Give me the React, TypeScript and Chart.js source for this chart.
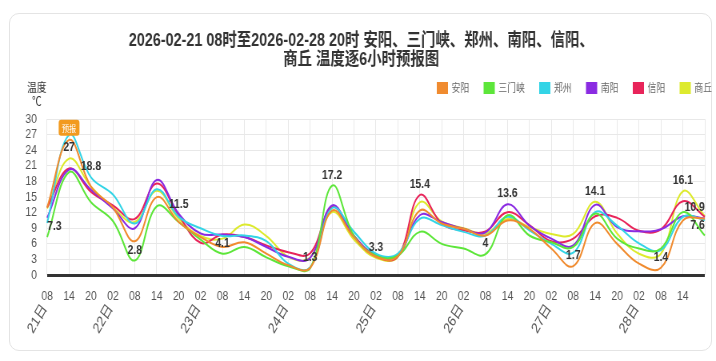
import React, { useEffect, useRef } from 'react';
import { Chart, registerables } from 'chart.js';

Chart.register(...registerables);

// ---------- data ----------
const titleLines = [
  '2026-02-21 08时至2026-02-28 20时 安阳、三门峡、郑州、南阳、信阳、',
  '商丘 温度逐6小时预报图',
];

const hourLabels = [
  '08', '14', '20',
  '02', '08', '14', '20',
  '02', '08', '14', '20',
  '02', '08', '14', '20',
  '02', '08', '14', '20',
  '02', '08', '14', '20',
  '02', '08', '14', '20',
  '02', '08', '14', '20',
];

const dayNames = ['21日', '22日', '23日', '24日', '25日', '26日', '27日', '28日'];

const cityNames = ['安阳', '三门峡', '郑州', '南阳', '信阳', '商丘'];
const cityColors = ['#F08B2F', '#5DE63A', '#33D4E6', '#8A2BE2', '#E8245A', '#DDEA2E'];

const anyang = [13, 26, 17, 13, 6.5, 15, 10.2, 7.3, 5.4, 6.3, 4.1, 1.9, 1.4, 12.4, 7.2, 3.5, 3.6, 12.4, 9.9, 8.9, 7.6, 10.5, 8.9, 5.1, 1.7, 10, 6, 2.2, 1.4, 10.5, 10.9];
const sanmenxia = [7.3, 19.8, 14, 10.4, 2.8, 13.2, 10.2, 6.8, 4.1, 5.4, 3.4, 1.7, 1.3, 17.2, 7.5, 3.7, 3.7, 8.3, 6, 5.1, 4, 11.5, 7.6, 6.3, 5.4, 11.8, 7, 5.1, 5.1, 12.1, 7.6];
const zhengzhou = [10, 27, 18.8, 15.5, 9.9, 16.5, 11.2, 9, 7.5, 7.6, 6.5, 2.2, 1.5, 12.9, 8.3, 4.1, 4.1, 10.8, 9.6, 8.3, 7.6, 11.2, 8.6, 6, 4.3, 12.1, 9.5, 6.1, 4.8, 11.2, 10.6];
const nanyang = [11, 20.3, 16.4, 12.8, 9, 18.3, 11.8, 8, 7.8, 7.3, 5.4, 3.5, 3.3, 13.4, 7.5, 3.8, 3.7, 11.5, 10.2, 8.9, 8.2, 13.6, 9.5, 7, 5.7, 13.5, 9.2, 8.4, 8.8, 11.3, 10.9];
const xinyang = [13, 20.5, 16, 13.4, 10.8, 17.6, 11.5, 6.2, 7.8, 7.3, 5.7, 4.4, 4.2, 13.1, 7.5, 3.6, 3.6, 15.4, 9.9, 8.6, 8.4, 12.1, 9.6, 6.5, 7, 11.3, 11, 8.5, 8.8, 14.2, 11.2];
const shangqiu = [12.8, 22.4, 17, 13, 10.2, 16.2, 10.8, 7.5, 7, 9.7, 7.5, 3.5, 3.4, 12.1, 6.8, 3.3, 3.5, 14, 10.3, 9, 8, 10.8, 9.2, 7.9, 7.9, 14.1, 8, 4.1, 4.1, 16.1, 11.3];

const seriesValues = [anyang, sanmenxia, zhengzhou, nanyang, xinyang, shangqiu];

// value labels (index on the time axis, value)
const labelIndex = [0, 1, 2, 4, 6, 8, 12, 13, 15, 17, 20, 21, 24, 25, 28, 29, 30, 30];
const labelValue = [7.3, 27, 18.8, 2.8, 11.5, 4.1, 1.3, 17.2, 3.3, 15.4, 4, 13.6, 1.7, 14.1, 1.4, 16.1, 10.9, 7.6];

const badgeText = '预报';
const badgeIndex = 1;
const badgeValue = 27;

const yTitle = ['温度', '℃'];

// ---------- helpers ----------
const LAT = "'Liberation Sans', 'Noto Sans CJK SC', sans-serif";
const CJK = "'Noto Sans CJK SC', sans-serif";

// day tick labels: a day name at the first point and at every "02"
const dayTickLabels = (() => {
  let d = 0;
  return hourLabels.map((h, i) => {
    if (i === 0) return dayNames[0];
    if (h === '02') { d += 1; return dayNames[d]; }
    return '';
  });
})();

const LEGEND_H = 49.5;
const LEGEND_TOP = 63.5;
const LEGEND_SHIFT = 28;
const TITLE_SHIFT = 1.6;
const DAY_ROT = (55 * Math.PI) / 180;

const layoutTweak = {
  id: 'layoutTweak',
  beforeLayout(chart: any) {
    const lg = chart.legend;
    if (lg && !lg.__patched) {
      const orig = lg.fit;
      lg.fit = function () {
        orig.call(this);
        this.height = LEGEND_H;
      };
      lg.__patched = true;
    }
  },
  afterLayout(chart: any) {
    const lg = chart.legend;
    if (lg) {
      const dy = LEGEND_TOP - lg.top;
      lg.top += dy;
      lg.bottom += dy;
      lg.left += LEGEND_SHIFT;
      lg.right += LEGEND_SHIFT;
    }
    const tb = chart.titleBlock;
    if (tb) {
      tb.left += TITLE_SHIFT;
      tb.right += TITLE_SHIFT;
    }
  },
};

const annotations = {
  id: 'annotations',
  afterDraw(chart: any) {
    const { ctx, chartArea } = chart;
    const x = chart.scales.x;
    const y = chart.scales.y;
    ctx.save();
    // badge
    const bx = x.getPixelForValue(badgeIndex);
    const by = y.getPixelForValue(badgeValue) - 7;
    const bw = 26;
    const bh = 16;
    ctx.fillStyle = '#F29A1F';
    ctx.beginPath();
    (ctx as any).roundRect(bx - bw / 2, by - bh / 2, bw, bh, 3);
    ctx.fill();
    ctx.fillStyle = '#fff';
    ctx.font = `9px ${CJK}`;
    ctx.textAlign = 'center';
    ctx.textBaseline = 'middle';
    ctx.fillText(badgeText, bx, by + 0.5);

    // value labels
    ctx.font = `bold 13px ${LAT}`;
    ctx.fillStyle = '#333';
    ctx.textBaseline = 'middle';
    ctx.textAlign = 'center';
    labelIndex.forEach((idx, k) => {
      const v = labelValue[k];
      const text = String(v);
      const px = x.getPixelForValue(idx);
      const py = y.getPixelForValue(v);
      const w = ctx.measureText(text).width;
      let cx = px;
      if (cx - w / 2 < chartArea.left) cx = chartArea.left + w / 2;
      if (cx + w / 2 > chartArea.right) cx = chartArea.right - w / 2;
      const below = idx === badgeIndex && v === badgeValue;
      ctx.fillText(text, cx, below ? py + 12.5 : py - 10.5);
    });

    // y axis title
    ctx.font = `12px ${CJK}`;
    ctx.fillStyle = '#333';
    const tx = chartArea.left - 13;
    ctx.fillText(yTitle[0], tx, chartArea.top - 32);
    ctx.fillText(yTitle[1], tx, chartArea.top - 18);

    // day labels under the hour ticks (rotated)
    ctx.font = `15px ${LAT}`;
    ctx.fillStyle = '#555';
    ctx.textAlign = 'right';
    ctx.textBaseline = 'middle';
    dayTickLabels.forEach((t, i) => {
      if (!t) return;
      const px = x.getPixelForValue(i);
      ctx.save();
      ctx.translate(px - 3, chartArea.bottom + 31);
      ctx.rotate(-DAY_ROT);
      ctx.fillText(t, 0, 0);
      ctx.restore();
    });
    ctx.restore();
  },
};

export default function App() {
  const ref = useRef<HTMLCanvasElement>(null);

  useEffect(() => {
    if (!ref.current) return;
    const chart = new Chart(ref.current, {
      type: 'line',
      data: {
        labels: hourLabels,
        datasets: cityNames.map((name, i) => ({
          label: name,
          data: seriesValues[i],
          borderColor: cityColors[i],
          backgroundColor: cityColors[i],
          borderWidth: 2,
          pointRadius: 0,
          tension: 0.4,
          fill: false,
        })),
      },
      options: {
        responsive: false,
        animation: false,
        devicePixelRatio: 1,
        layout: { padding: { top: 31.5, left: 19, right: 14, bottom: 42.4 } },
        plugins: {
          title: {
            display: true,
            text: titleLines,
            color: '#333',
            font: { family: LAT, size: 18, weight: 'bold', lineHeight: 1.06 },
            padding: 0,
          },
          legend: {
            display: true,
            position: 'top',
            align: 'end',
            labels: {
              boxWidth: 12,
              boxHeight: 10,
              padding: 19,
              color: '#666',
              font: { family: CJK, size: 11 },
            },
          },
          tooltip: { enabled: false },
        },
        scales: {
          x: {
            type: 'category',
            offset: false,
            grid: { color: '#e8e8e8', drawTicks: false },
            border: { display: false },
            ticks: {
              autoSkip: false,
              maxRotation: 0,
              padding: 14,
              color: '#555',
              font: { family: LAT, size: 13 },
              callback: (_v: any, i: number) => (i === hourLabels.length - 1 ? '' : hourLabels[i]),
            },
          },
          y: {
            min: 0,
            max: 30,
            grid: {
              drawTicks: false,
              color: (c: any) => (c.tick && c.tick.value === 0 ? '#333' : '#e8e8e8'),
              lineWidth: (c: any) => (c.tick && c.tick.value === 0 ? 3 : 1),
            },
            border: { display: false },
            ticks: {
              stepSize: 3,
              autoSkip: false,
              padding: 12.75,
              color: '#555',
              font: { family: LAT, size: 13 },
            },
          },
        },
      } as any,
      plugins: [layoutTweak, annotations],
    });
    return () => chart.destroy();
  }, []);

  return (
    <div style={{ position: 'fixed', left: 0, top: 0, width: 716, height: 361, overflow: 'hidden', background: '#fff' }}>
      <div
        style={{
          position: 'absolute',
          left: 9,
          top: 13,
          width: 703,
          height: 338,
          border: '1px solid #e4e4e4',
          borderRadius: 10,
          boxSizing: 'border-box',
        }}
      />
      <canvas
        ref={ref}
        width={895}
        height={361}
        style={{
          position: 'absolute',
          left: 0,
          top: 0,
          width: 895,
          height: 361,
          transform: 'scaleX(0.8)',
          transformOrigin: '0 0',
        }}
      />
    </div>
  );
}
